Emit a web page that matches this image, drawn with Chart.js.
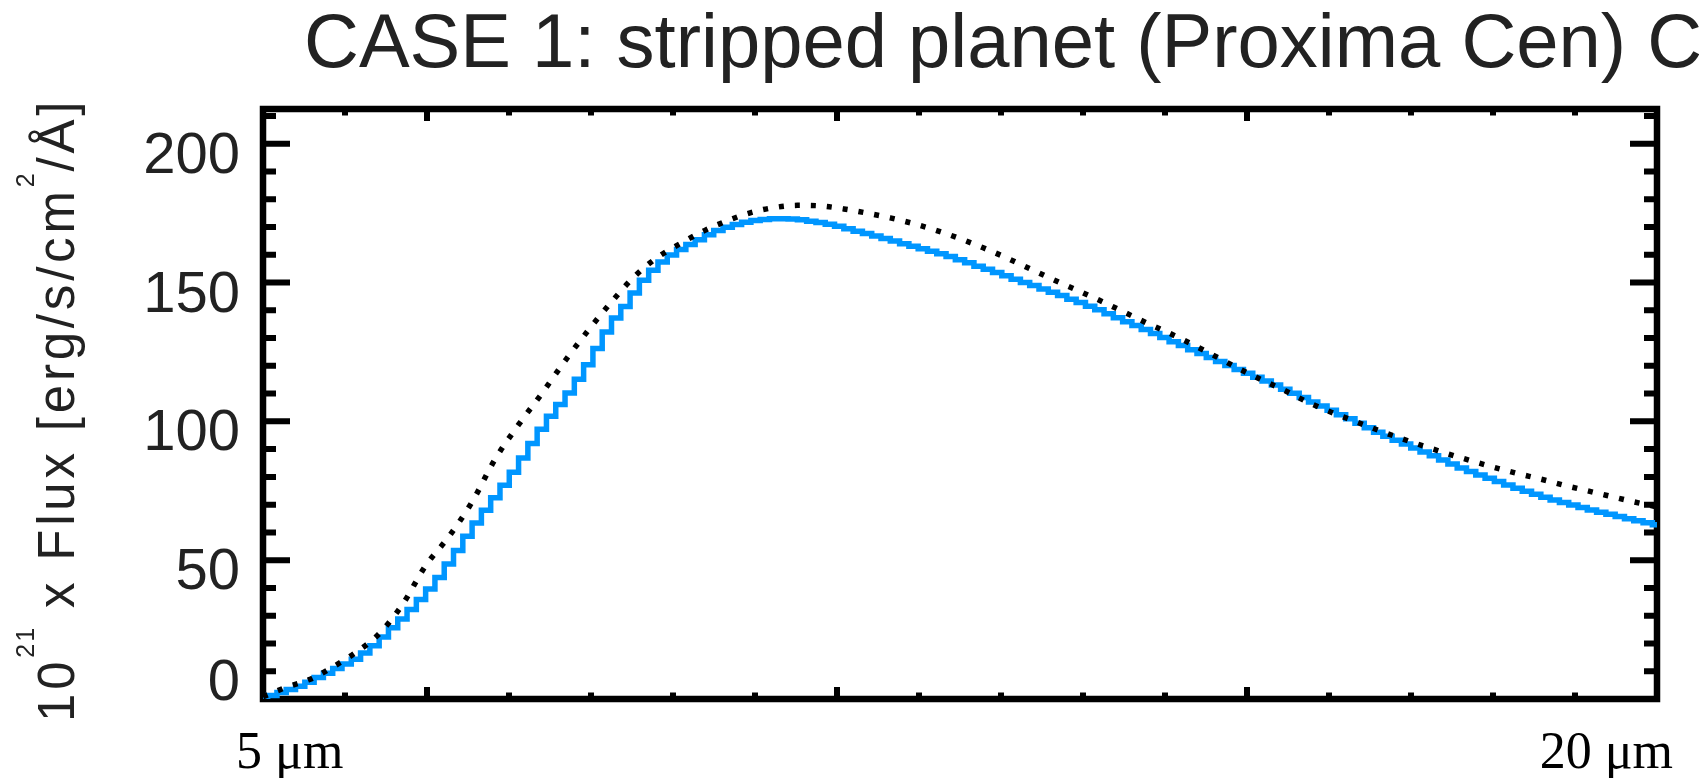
<!DOCTYPE html>
<html>
<head>
    <title>CASE 1: stripped planet (Proxima Cen)</title>
    <script src="https://cdn.jsdelivr.net/npm/chart.js"></script>
    <style>
        html, body { margin: 0; padding: 0; background: #fff; }
        canvas { display: block; }
    </style>
</head>
<body>
    <canvas id="myChart" width="1699" height="778"></canvas>
    <script>
        // wavelength grids in micron (binned spectrum every 0.1, model every 0.25)
        const binWavelength = Array.from({ length: 151 }, (_, i) => Math.round(50 + i) / 10);
        const modelWavelength = Array.from({ length: 61 }, (_, i) => 5 + i * 0.25);

        // 10^21 x flux
        const binnedFlux = [
            0.5, 1.3, 2.3, 3.4, 4.6, 6.0, 7.7, 9.3, 11.0, 12.6,
            14.3, 16.6, 19.2, 22.3, 25.7, 28.8, 32.2, 35.8, 39.6, 43.8,
            48.6, 53.5, 58.6, 63.4, 68.0, 72.5, 77.0, 81.7, 86.8, 92.0,
            97.2, 101.8, 106.1, 110.2, 115.2, 120.4, 126.2, 132.2, 137.2, 141.4,
            146.2, 150.8, 154.4, 157.4, 159.9, 161.9, 163.7, 165.4, 167.2, 168.7,
            169.9, 170.9, 171.7, 172.3, 172.7, 173.0, 173.0, 172.9, 172.6, 172.1,
            171.6, 171.0, 170.3, 169.4, 168.5, 167.7, 166.8, 165.9, 165.0, 164.0,
            163.1, 162.2, 161.3, 160.4, 159.4, 158.2, 157.1, 155.9, 154.8, 153.6,
            152.4, 151.2, 150.0, 148.9, 147.7, 146.5, 145.3, 144.0, 142.8, 141.5,
            140.2, 138.8, 137.3, 135.9, 134.5, 133.1, 131.6, 130.2, 128.7, 127.3,
            125.8, 124.4, 123.0, 121.6, 120.1, 118.7, 117.3, 115.9, 114.5, 113.1,
            111.6, 110.1, 108.6, 107.0, 105.5, 104.0, 102.4, 100.9, 99.3, 97.7,
            96.1, 94.6, 93.2, 91.8, 90.4, 89.0, 87.6, 86.1, 84.6, 83.2,
            81.9, 80.7, 79.5, 78.3, 77.1, 75.9, 74.8, 73.7, 72.7, 71.7,
            70.8, 69.9, 69.0, 68.1, 67.3, 66.5, 65.7, 64.9, 64.2, 63.5,
            62.8
        ];
        const modelFlux = [
            0.8, 4.2, 7.0, 11.5, 16.8, 23.5, 34.0, 48.0, 58.5, 71.0,
            86.5, 98.8, 110.0, 121.8, 132.8, 143.0, 152.3, 159.2, 164.2, 168.7,
            172.3, 175.2, 177.0, 177.8, 177.6, 176.5, 175.0, 173.3, 171.2, 168.7,
            165.8, 162.5, 158.9, 155.0, 151.1, 147.4, 143.6, 139.6, 135.6, 131.8,
            127.7, 123.4, 119.0, 114.9, 111.0, 106.8, 103.2, 100.0, 96.8, 93.8,
            91.0, 88.3, 85.8, 83.4, 81.2, 79.2, 77.0, 75.0, 73.0, 71.0,
            69.2
        ];

        const yTickValues = [0, 50, 100, 150, 200];
        const yTickLabels = ['0', '50', '100', '150', '200'];
        const xTickValues = [5, 20];
        const xTickLabels = ['5 \u03bcm', '20 \u03bcm'];
        const titleText = 'CASE 1: stripped planet (Proxima Cen) C';

        // IDL style box: thick frame, inward ticks on all four sides, hand placed labels
        const idlFrame = {
            id: 'idlFrame',
            beforeDatasetsDraw(chart) {
                const { ctx, chartArea: a, scales: { x, y } } = chart;
                ctx.save();
                ctx.strokeStyle = '#000';
                ctx.lineWidth = 6.5;
                ctx.strokeRect(a.left, a.top, a.right - a.left, a.bottom - a.top);
                ctx.lineWidth = 6;
                ctx.lineCap = 'butt';
                ctx.beginPath();
                for (let v = 10; v < y.max; v += 10) {
                    const py = y.getPixelForValue(v);
                    const len = v % 50 === 0 ? 27 : 13;
                    ctx.moveTo(a.left, py); ctx.lineTo(a.left + len, py);
                    ctx.moveTo(a.right, py); ctx.lineTo(a.right - len, py);
                }
                for (let k = 1; k < 17; k++) {
                    const px = x.getPixelForValue(5 + k * 15 / 17);
                    const len = k % 5 === 2 ? 12 : 6.5;
                    ctx.moveTo(px, a.bottom); ctx.lineTo(px, a.bottom - len);
                    ctx.moveTo(px, a.top); ctx.lineTo(px, a.top + len);
                }
                ctx.stroke();
                ctx.restore();
            },
            afterDraw(chart) {
                const { ctx, scales: { x, y } } = chart;
                ctx.save();
                ctx.fillStyle = '#222';

                ctx.font = '76px "Liberation Sans", Arial, sans-serif';
                ctx.textAlign = 'left';
                ctx.textBaseline = 'alphabetic';
                ctx.fillText(titleText, 304, 67);

                ctx.font = '58px "Liberation Sans", Arial, sans-serif';
                ctx.textAlign = 'right';
                yTickValues.forEach((v, i) => {
                    const py = y.getPixelForValue(v);
                    const base = v === 0 ? py - 20 + 21 : py + 8 + 21;
                    ctx.fillText(yTickLabels[i], 240, base);
                });

                ctx.fillStyle = '#000';
                ctx.font = '52px "Liberation Serif", "DejaVu Serif", serif';
                ctx.textAlign = 'left';
                ctx.fillText(xTickLabels[0], x.getPixelForValue(xTickValues[0]) - 27, 768);
                ctx.textAlign = 'right';
                ctx.fillText(xTickLabels[1], x.getPixelForValue(xTickValues[1]) + 16, 768);

                // rotated y title with superscripts
                ctx.fillStyle = '#222';
                const parts = [
                    ['10', false], ['21', true], [' x Flux [erg/s/cm', false], ['2', true], ['/\u00c5]', false]
                ];
                const mainFont = '51px "Liberation Sans", Arial, sans-serif';
                const supFont = '25px "Liberation Sans", Arial, sans-serif';
                let natural = 0, nChars = 0;
                parts.forEach(([t, sup]) => {
                    ctx.font = sup ? supFont : mainFont;
                    natural += ctx.measureText(t).width;
                    nChars += t.length;
                });
                const spacing = (630 - natural) / nChars;
                ctx.translate(74, 722);
                ctx.rotate(-Math.PI / 2);
                ctx.textAlign = 'left';
                let pos = 0;
                parts.forEach(([t, sup]) => {
                    ctx.font = sup ? supFont : mainFont;
                    for (const ch of t) {
                        ctx.fillText(ch, pos, sup ? -40 : 0);
                        pos += ctx.measureText(ch).width + (sup ? spacing * 0.5 : spacing);
                    }
                });
                ctx.restore();
            }
        };

        const ctx = document.getElementById('myChart').getContext('2d');
        new Chart(ctx, {
            type: 'line',
            data: {
                datasets: [{
                    label: 'model',
                    data: modelWavelength.map((w, i) => ({ x: w, y: modelFlux[i] })),
                    borderColor: '#000',
                    borderWidth: 5.5,
                    borderDash: [5, 11],
                    cubicInterpolationMode: 'monotone',
                    pointRadius: 0
                }, {
                    label: 'binned',
                    data: binWavelength.map((w, i) => ({ x: w, y: binnedFlux[i] })),
                    borderColor: 'rgb(0, 150, 255)',
                    borderWidth: 5.5,
                    stepped: 'middle',
                    pointRadius: 0
                }]
            },
            options: {
                responsive: false,
                animation: false,
                layout: { padding: { left: 263, top: 109, right: 42, bottom: 79 } },
                plugins: {
                    legend: { display: false },
                    tooltip: { enabled: false }
                },
                scales: {
                    x: { type: 'linear', min: 5, max: 20, display: false },
                    y: { min: 0, max: 212.5, display: false }
                }
            },
            plugins: [idlFrame]
        });
    </script>
</body>
</html>
